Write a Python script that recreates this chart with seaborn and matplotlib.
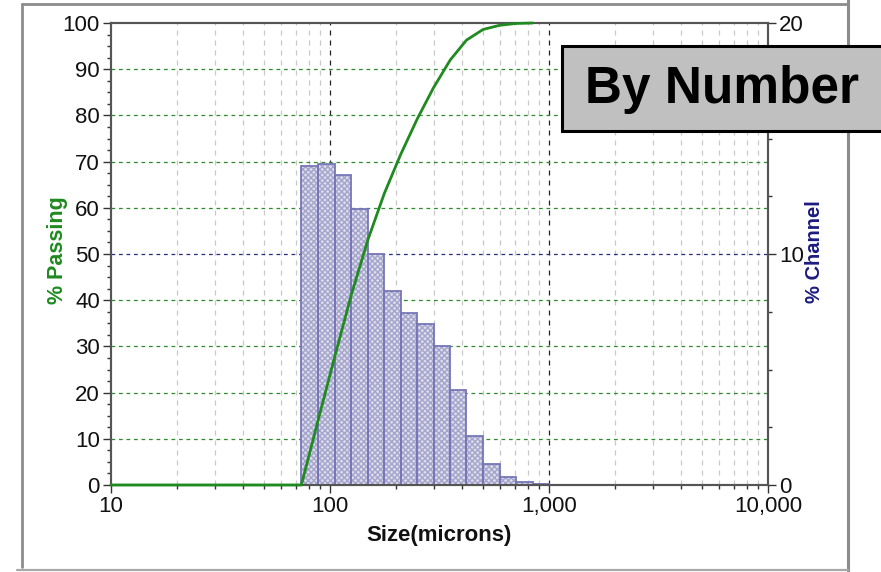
import numpy as np
import matplotlib
matplotlib.use("Agg")
import matplotlib.pyplot as plt
import matplotlib.font_manager as fm
from matplotlib.patches import Rectangle
from matplotlib.lines import Line2D
from matplotlib.ticker import FixedLocator, MultipleLocator, FuncFormatter, LogLocator, NullFormatter
import seaborn as sns
import pandas as pd

# Sieve channel edges (microns) and % of particles per channel
bin_edges = [74, 88, 105, 125, 149, 177, 210, 250, 297, 354, 420, 500, 595, 707, 841, 1000]
channel_pct = [13.8, 13.9, 13.4, 11.95, 10.0, 8.4, 7.45, 6.95, 6.0, 4.1, 2.13, 0.91, 0.33, 0.11, 0.03]

# Cumulative % passing curve
passing_size = [10, 74, 88, 105, 125, 149, 177, 210, 250, 297, 354, 420, 500, 595, 707, 841]
passing_pct = [0, 0, 13.8, 27.7, 41.1, 53.1, 63.1, 71.5, 79.2, 86.0, 92.0, 96.3, 98.6, 99.5, 99.9, 100]

x_ticks = [10, 100, 1000, 10000]
x_tick_labels = ["10", "100", "1,000", "10,000"]

sns.set_theme(style="white")


def pick_font(*names):
    available = {f.name for f in fm.fontManager.ttflist}
    for n in names:
        if n in available:
            return n
    return "DejaVu Sans"


NARROW = pick_font("Liberation Sans Narrow", "DejaVu Sans Condensed", "Liberation Sans")
BOLD = pick_font("Liberation Sans", "Arimo", "DejaVu Sans")
plt.rcParams["font.family"] = [NARROW, "DejaVu Sans"]

W, H = 881, 572
fig = plt.figure(figsize=(W / 100, H / 100), dpi=100)
fig.patch.set_facecolor("white")

ax = fig.add_axes([111 / W, 1 - 485 / H, (768 - 111) / W, (485 - 23) / H])
ax2 = ax.twinx()
ax.set_zorder(2)
ax.patch.set_visible(False)
ax2.set_zorder(1)

ax.set_xscale("log")
ax.set_xlim(10, 10000)
ax.set_ylim(0, 100)
ax2.set_ylim(0, 20)

# grid: light vertical dashes at minor decades, dark at majors
for dec in [10, 100, 1000]:
    for m in range(2, 10):
        ax2.axvline(dec * m, color="#c8c8c8", lw=0.9, ls=(0, (4, 4)), zorder=0)
for v in [100, 1000]:
    ax2.axvline(v, color="#222222", lw=0.9, ls=(0, (4, 4)), zorder=0)
for yv in range(10, 100, 10):
    c = "#2a2a80" if yv == 50 else "#2e8b2e"
    ax2.axhline(yv / 5, color=c, lw=0.9, ls=(0, (3, 3)), zorder=0)

# channel bars
lefts = np.array(bin_edges[:-1], dtype=float)
widths = np.diff(np.array(bin_edges, dtype=float))
ax2.bar(lefts, channel_pct, width=widths, align="edge",
        facecolor="#dcdcea", edgecolor="#a4a4cc", hatch="xxxxxx", linewidth=0, zorder=2)
ax2.bar(lefts, channel_pct, width=widths, align="edge",
        fill=False, edgecolor="#7676b8", linewidth=1.3, zorder=3)

# cumulative passing curve
df = pd.DataFrame({"size": passing_size, "passing": passing_pct})
sns.lineplot(data=df, x="size", y="passing", ax=ax, color="#1f8a1f", lw=2.0,
             zorder=5, clip_on=False)
ax.set_xscale("log")
ax.set_xlim(10, 10000)
ax.set_ylim(0, 100)

# spines
for a in (ax, ax2):
    for s in a.spines.values():
        s.set_color("#555555")
        s.set_linewidth(1.5)
        s.set_visible(True)

# ticks
ax.xaxis.set_major_locator(FixedLocator(x_ticks))
ax.set_xticklabels(x_tick_labels)
ax.xaxis.set_minor_locator(LogLocator(base=10, subs=np.arange(2, 10)))
ax.xaxis.set_minor_formatter(NullFormatter())
ax.yaxis.set_major_locator(MultipleLocator(10))
ax.yaxis.set_minor_locator(MultipleLocator(2.5))
ax2.yaxis.set_major_locator(MultipleLocator(10))
ax2.yaxis.set_minor_locator(MultipleLocator(2.5))

ax.tick_params(axis="both", which="major", direction="out", length=6, width=1,
               color="#333333", labelsize=16, labelcolor="#111111", pad=2)
ax.tick_params(axis="both", which="minor", direction="out", length=3, width=1, color="#333333")
ax.tick_params(axis="y", which="both", left=True, right=False)
ax.tick_params(axis="x", which="both", bottom=True, top=False)
ax2.tick_params(axis="y", which="major", direction="out", length=6, width=1,
                color="#333333", labelsize=16, labelcolor="#111111", pad=2, right=True)
ax2.tick_params(axis="y", which="minor", direction="out", length=3, width=1,
                color="#333333", right=True)
for a in (ax, ax2):
    a.grid(False)

ax.set_xlabel("Size(microns)", fontsize=16, fontweight="bold", color="#111111",
              family=[NARROW, "DejaVu Sans"], labelpad=6)
ax.set_ylabel("")
ax2.set_ylabel("")

fig.text(58 / W, 1 - 250 / H, "% Passing", rotation=90, ha="center", va="center",
         fontsize=15.5, fontweight="bold", color="#1f8a1f", family=[BOLD, "DejaVu Sans"])
fig.text(815 / W, 1 - 252 / H, "% Channel", rotation=90, ha="center", va="center",
         fontsize=14.5, fontweight="bold", color="#1c1c80", family=[BOLD, "DejaVu Sans"])

# outer frame
frame_c = "#8c8c8c"
fig.add_artist(Line2D([22 / W, 22 / W], [1 - 567 / H, 1 - 4 / H], color=frame_c, lw=2, transform=fig.transFigure))
fig.add_artist(Line2D([22 / W, 846 / W], [1 - 4 / H, 1 - 4 / H], color=frame_c, lw=2, transform=fig.transFigure))
fig.add_artist(Line2D([848 / W, 848 / W], [1 - 571 / H, 1.0], color=frame_c, lw=2.2, transform=fig.transFigure))
fig.add_artist(Line2D([17 / W, 848 / W], [1 - 570 / H, 1 - 570 / H], color="#a8a8a8", lw=1.6, transform=fig.transFigure))

# label box
box = Rectangle((562 / W, 1 - 131 / H), (900 - 562) / W, (131 - 46) / H,
                transform=fig.transFigure, facecolor="#c0c0c0", edgecolor="black",
                linewidth=2.2, zorder=10)
fig.add_artist(box)
fig.text(722 / W, 1 - 89 / H, "By Number", ha="center", va="center", fontsize=37,
         fontweight="bold", color="black", family=[BOLD, "DejaVu Sans"], zorder=11)

fig.savefig("out.png", dpi=100)
